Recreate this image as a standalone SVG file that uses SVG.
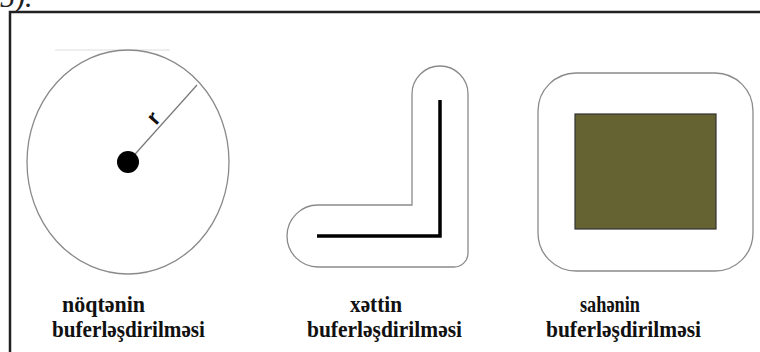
<svg xmlns="http://www.w3.org/2000/svg" width="760" height="352" viewBox="0 0 760 352">
<style>
.buf{fill:#fff;stroke:#8a8a8a;stroke-width:1.3}
.lbl{font-family:"Liberation Serif",serif;font-weight:bold;font-size:23px;fill:#111}
.frame{fill:none;stroke:#222;stroke-width:2.5}
</style>
<rect width="760" height="352" fill="#fff"/>
<text x="0" y="7" font-family="Liberation Serif,serif" font-style="italic" font-size="30" fill="#222">5).</text>
<path class="frame" d="M10,352 V12 H760"/>
<g id="point">
<line x1="55" y1="50" x2="170" y2="50" stroke="#ddd" stroke-width="1"/>
<ellipse class="buf" fill="none" cx="128" cy="162" rx="101" ry="112"/>
<line x1="128" y1="162" x2="197" y2="85" stroke="#777" stroke-width="1.2"/>
<circle cx="128" cy="162" r="11" fill="#000"/>
<text x="0" y="0" transform="translate(156,126) rotate(-48)" font-family="Liberation Sans,sans-serif" font-weight="bold" font-size="22" fill="#111">r</text>
</g>
<g id="line">
<path class="buf" d="M412,205 V94 A28,28 0 0 1 468,94 V253 A14,14 0 0 1 454,267 H318 A31,31 0 0 1 318,205 Z"/>
<polyline points="317,236 440,236 440,100" fill="none" stroke="#000" stroke-width="3.5"/>
</g>
<g id="area">
<rect class="buf" x="538" y="73" width="215" height="198" rx="38" ry="38"/>
<rect x="575" y="114" width="141" height="115" fill="#656332" stroke="#333" stroke-width="1.2"/>
</g>
<g id="labels">
<text class="lbl" x="62" y="312" textLength="83" lengthAdjust="spacingAndGlyphs">nöqtənin</text>
<text class="lbl" x="52" y="337" textLength="153" lengthAdjust="spacingAndGlyphs">buferləşdirilməsi</text>
<text class="lbl" x="350" y="312" textLength="52" lengthAdjust="spacingAndGlyphs">xəttin</text>
<text class="lbl" x="307" y="337" textLength="155" lengthAdjust="spacingAndGlyphs">buferləşdirilməsi</text>
<text class="lbl" x="580" y="312" textLength="60" lengthAdjust="spacingAndGlyphs">sahənin</text>
<text class="lbl" x="546" y="337" textLength="155" lengthAdjust="spacingAndGlyphs">buferləşdirilməsi</text>
</g>
</svg>
